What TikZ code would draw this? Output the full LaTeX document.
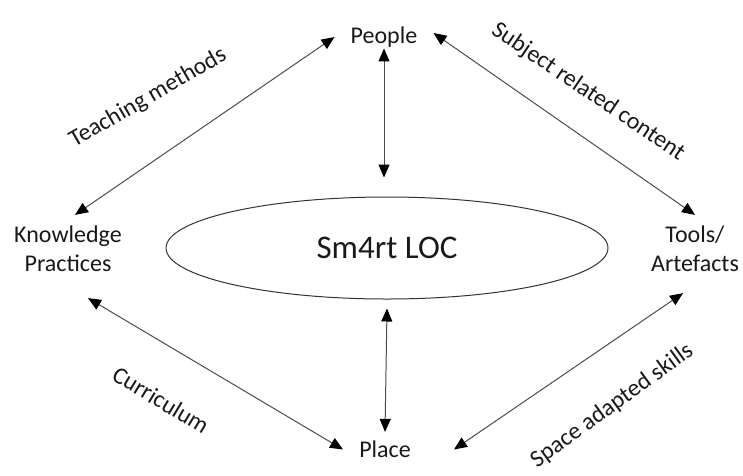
\documentclass[tikz,border=0pt]{standalone}
\usepackage{fontspec}
\setmainfont{Carlito}
\usetikzlibrary{arrows.meta,shapes.geometric}

\begin{document}
\begin{tikzpicture}
  [x=1pt,y=-1pt,
   every node/.style={font=\fontsize{24}{29}\selectfont,align=center,text=black!90},
   lbl/.style={inner sep=0pt},
   arr/.style={{Triangle[length=13pt,width=11pt,color=black]}-{Triangle[length=13pt,width=11pt,color=black]},
     draw=black!70,line width=1pt}]
  \useasboundingbox (0,0) rectangle (743,475);

  % corners
  \node (people) [inner xsep=16pt,inner ysep=1pt] at (384,37) {People};
  \node (know) [inner xsep=4pt,inner ysep=11pt] at (68,249) {Knowledge\\Practices};
  \node (tools) [inner xsep=4pt,inner ysep=11pt] at (695,249) {Tools/\\Artefacts};
  \node (place) [inner xsep=16pt,inner ysep=9pt] at (385,449.5) {Place};
  \node (loc) [ellipse,draw=black!80,line width=1pt,minimum width=442pt,minimum height=102pt,
    inner sep=0pt,font=\fontsize{33}{40}\selectfont] at (387,248) {Sm4rt LOC};

  % relations
  \draw[arr] (people.west) -- ([xshift=7pt]know.north);
  \draw[arr] ([yshift=4pt]people.east) -- (tools.north);
  \draw[arr] ([shift={(20,15)}]know.south) -- (place.west);
  \draw[arr] ([xshift=27pt]place.east) -- ([shift={(-12,10)}]tools.south);
  \draw[arr] (people.south) -- ([shift={(-3,-19)}]loc.north);
  \draw[arr] ([yshift=-9pt]loc.south) -- (place.north);

  \node[lbl,rotate=30] (teach) at (148,98) {Teaching methods};
  \node[lbl,rotate=-34] (subj) at (588,92) {Subject related content};
  \node[lbl,rotate=-31] (curr) at (161,400) {Curriculum};
  \node[lbl,rotate=36] (space) at (612,406) {Space adapted skills};
\end{tikzpicture}
\end{document}
